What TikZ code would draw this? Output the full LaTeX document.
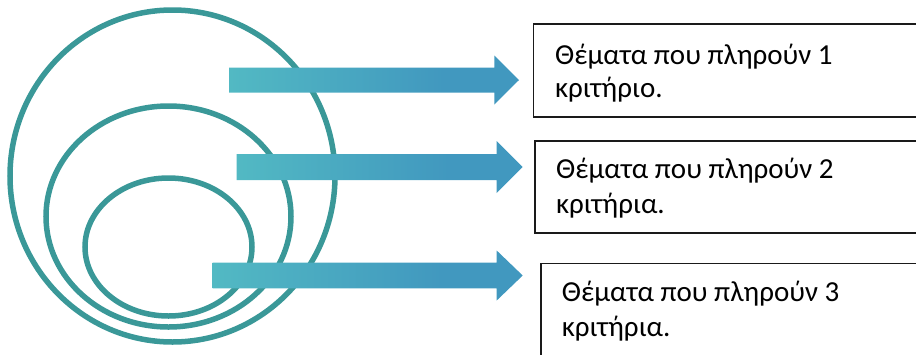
\documentclass[tikz,border=0pt]{standalone}
\usepackage{fontspec}
\setmainfont{Carlito}
\definecolor{ringc}{HTML}{3A9898}
\definecolor{arrA}{HTML}{52B9C3}
\definecolor{arrB}{HTML}{4198BF}
\definecolor{boxc}{HTML}{1A1A1A}
\pgfdeclarehorizontalshading{arrowshade}{100bp}{color(0bp)=(arrA); color(25bp)=(arrA); color(62bp)=(arrB); color(100bp)=(arrB)}
\begin{document}
\begin{tikzpicture}[x=1pt,y=-1pt,
  ring/.style={draw=ringc,line width=5.5pt},
  blockarrow/.style={shading=arrowshade,draw=none},
  box/.style={draw=boxc,line width=1.6pt},
  lbl/.style={anchor=base west,inner sep=0pt,font=\fontsize{29}{34}\selectfont}]
\useasboundingbox (0,0) rectangle (916,354);
\clip (0,0) rectangle (916,354);
% rings
\draw[ring] (172.5,176) ellipse [x radius=162.5pt, y radius=166pt];
\draw[ring] (168.5,216.5) ellipse [x radius=122.5pt, y radius=110.5pt];
\draw[ring] (168.5,247) ellipse [x radius=83.5pt, y radius=69pt];
% block arrows
\path[blockarrow] (229,67.5) -- (494.3,67.5) -- (494.3,55.5) -- (519,80) -- (494.3,104.5) -- (494.3,92.5) -- (229,92.5) -- cycle;
\path[blockarrow] (236.7,154) -- (496.7,154) -- (496.7,141) -- (522.7,167) -- (496.7,193) -- (496.7,180) -- (236.7,180) -- cycle;
\path[blockarrow] (212.7,262.7) -- (496.7,262.7) -- (496.7,250.5) -- (522.7,275.5) -- (496.7,300.5) -- (496.7,288.3) -- (212.7,288.3) -- cycle;
% boxes
\draw[box] (533.3,24) rectangle (930,116.7);
\draw[box] (534.7,140.7) rectangle (930,232.7);
\draw[box] (540.7,263.3) rectangle (930,370);
% texts
\node[lbl] (t1a) at (555,64) {Θέματα που πληρούν 1};
\node[lbl] (t1b) at (555,97.5) {κριτήριο.};
\node[lbl] (t2a) at (556,178.7) {Θέματα που πληρούν 2};
\node[lbl] (t2b) at (556,213) {κριτήρια.};
\node[lbl] (t3a) at (561.7,301.7) {Θέματα που πληρούν 3};
\node[lbl] (t3b) at (561.7,336.7) {κριτήρια.};
\end{tikzpicture}
\end{document}
